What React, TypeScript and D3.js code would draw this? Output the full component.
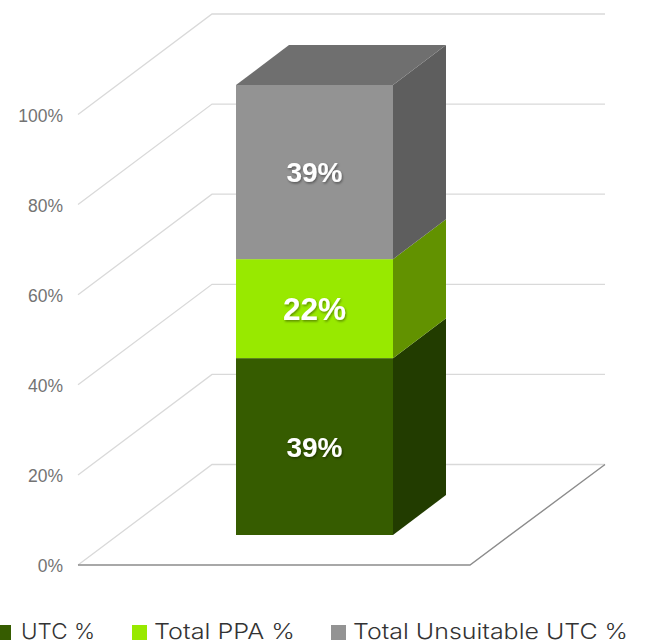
import React from "react";
import * as d3 from "d3";

const series = ["UTC %", "Total PPA %", "Total Unsuitable UTC %"];
const values = [39.3, 22, 38.7];
const labels = ["39%", "22%", "39%"];
const labelSizes = [28, 31.5, 28];
const frontColors = ["#365c00", "#98e900", "#939393"];
const sideColors = ["#223c00", "#629200", "#5e5e5e"];
const topColor = "#6f6f6f";
const ticks = [0, 20, 40, 60, 80, 100];

const W = 645, H = 644;
const wallY = d3.scaleLinear().domain([0, 100]).range([565, 114.5]);
const barY = d3.scaleLinear().domain([0, 100]).range([535, 85]);
const barX0 = 236, barX1 = 393;
const depthBar: [number, number] = [53, -40];
const depthWall: [number, number] = [134, -100.5];
const wallX0 = 78, wallX1 = 470;

const poly = (pts: [number, number][]) => d3.line()(pts) + "Z";

export default function App() {
  let acc = 0;
  const stacks = values.map((v) => {
    const s = { from: acc, to: acc + v };
    acc += v;
    return s;
  });
  const legendX = [0, 132, 331];
  const legendTextX = [21, 154, 353];
  const legendTextW = [74, 141, 275];
  return (
    <svg width={W} height={H} viewBox={`0 0 ${W} ${H}`} style={{ position: "absolute", left: 0, top: 0, background: "#fff" }}>
      <defs>
        <filter id="ts" x="-20%" y="-20%" width="140%" height="140%">
          <feDropShadow dx="1" dy="1.5" stdDeviation="1" floodColor="#000" floodOpacity="0.4" />
        </filter>
      </defs>
      {ticks.map((t) => {
        const y = wallY(t);
        return (
          <g key={t}>
            <polyline
              points={`${wallX0},${y} ${wallX0 + depthWall[0]},${y + depthWall[1]} ${wallX1 + depthWall[0] + 1},${y + depthWall[1]}`}
              fill="none" stroke="#d9d9d9" strokeWidth={1.3} />
            <text x={63} y={y + 7} textAnchor="end" fontFamily="Liberation Sans" fontSize={17.5} fill="#737373">{t}%</text>
          </g>
        );
      })}
      <path d={`M${wallX0},${wallY(0)}L${wallX1},${wallY(0)}L${wallX1 + depthWall[0] + 1},${wallY(0) + depthWall[1]}`} fill="none" stroke="#8c8c8c" strokeWidth={1.4} />
      {stacks.map((s, i) => (
        <g key={i}>
          <path d={poly([[barX1, barY(s.from)], [barX1 + depthBar[0], barY(s.from) + depthBar[1]], [barX1 + depthBar[0], barY(s.to) + depthBar[1]], [barX1, barY(s.to)]])} fill={sideColors[i]} />
          <rect x={barX0} y={barY(s.to)} width={barX1 - barX0} height={barY(s.from) - barY(s.to)} fill={frontColors[i]} />
        </g>
      ))}
      <path d={poly([[barX0, barY(100)], [barX0 + depthBar[0], barY(100) + depthBar[1]], [barX1 + depthBar[0], barY(100) + depthBar[1]], [barX1, barY(100)]])} fill={topColor} />
      {stacks.map((s, i) => (
        <text key={i} x={(barX0 + barX1) / 2} y={barY((s.from + s.to) / 2) + labelSizes[i] * 0.36} textAnchor="middle"
          fontFamily="Liberation Sans" fontWeight="bold" fontSize={labelSizes[i]} fill="#fff" filter="url(#ts)">{labels[i]}</text>
      ))}
      {series.map((name, i) => (
        <g key={name}>
          <rect x={legendX[i]} y={625} width={i === 0 ? 11 : 15} height={15} fill={frontColors[i]} />
          <text x={legendTextX[i]} y={639} fontFamily="Inter" fontWeight={300} fontSize={22} textLength={legendTextW[i]} lengthAdjust="spacingAndGlyphs" fill="#333">{name}</text>
        </g>
      ))}
    </svg>
  );
}
